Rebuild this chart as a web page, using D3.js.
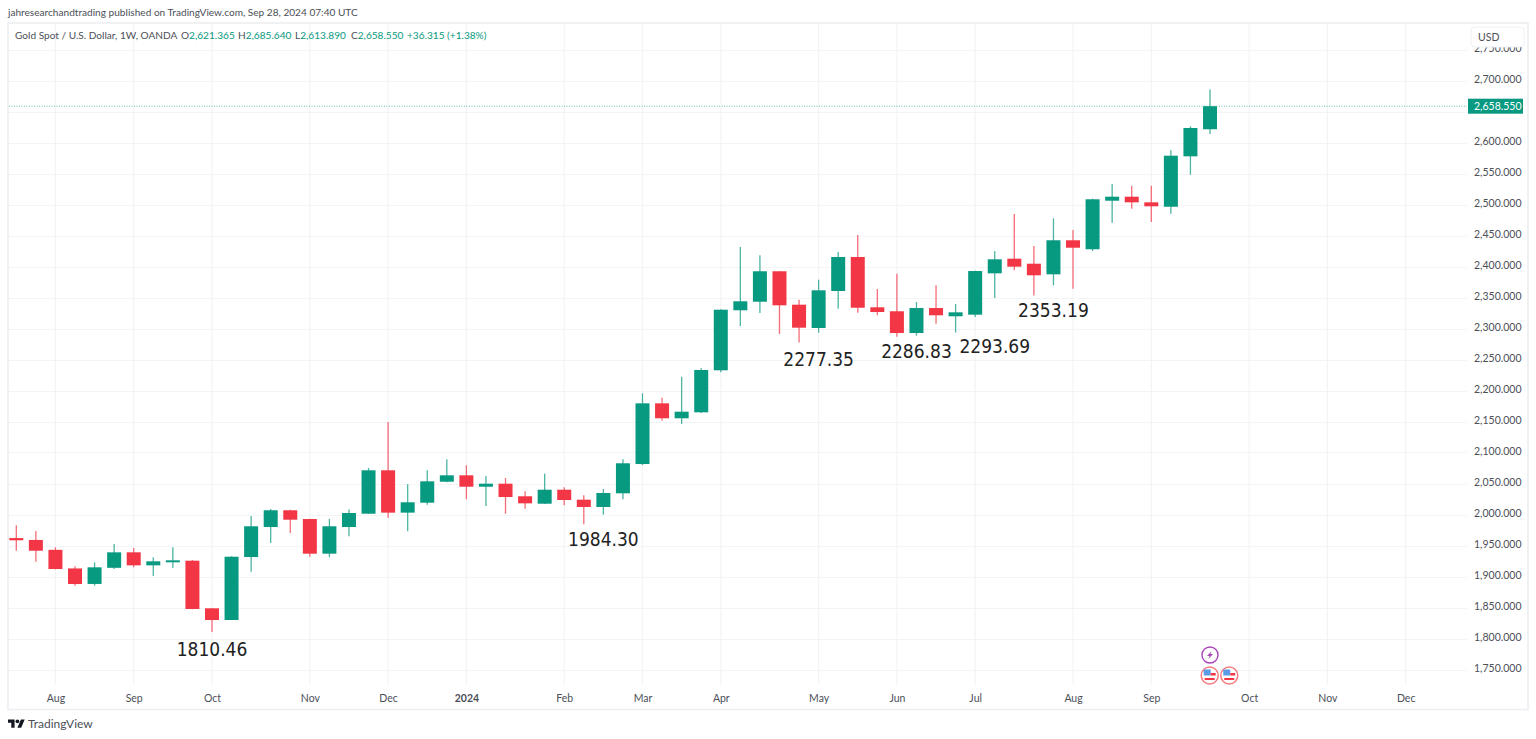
<!DOCTYPE html>
<html><head><meta charset="utf-8">
<script src="https://cdn.jsdelivr.net/npm/d3@7"></script>
<style>
html,body{margin:0;padding:0;background:#fff;overflow:hidden}
svg{display:block}
text{font-family:"Lato",sans-serif;}
</style></head><body>
<svg id="c" width="1536" height="739"></svg>
<script>
const opens=[1962,1959,1943,1913,1888,1914,1939,1918,1923,1925.5,1848.7,1829.8,1931.4,1979.8,2006.8,1992.7,1936.8,1979.8,2001.3,2071.3,2003,2019,2052.9,2063.2,2044.8,2049.7,2029.4,2017.4,2040,2023.9,2012.1,2034.2,2081.4,2179.3,2155.2,2164.8,2232.6,2329.4,2343.2,2392.3,2338.4,2300.8,2360.5,2415.3,2334.2,2327.8,2292.7,2333,2319.7,2322.3,2389,2412.6,2404.5,2387.4,2442.3,2427.8,2506.1,2512.6,2503.5,2496.4,2577.7,2621.365];
const highs=[1982.5,1973.4,1947.1,1916.4,1922.9,1952.4,1946,1931,1947.1,1926.6,1848.7,1932.6,1997.6,2008.9,2007.8,1993.2,1992.7,2008,2075,2149.2,2048.7,2071.3,2089,2079.4,2062,2058.9,2037.4,2065.8,2043.9,2031,2041.1,2089,2195.5,2188.4,2222.3,2235.8,2331,2431.5,2418,2392.3,2346.5,2378.7,2423.4,2450.8,2363.7,2388.4,2342.7,2369.7,2339.5,2393.2,2425,2484.7,2433.1,2477.7,2458.9,2509.4,2533,2530.3,2530.3,2587.4,2626.1,2685.64];
const lows=[1941.6,1923.9,1911.5,1885.2,1885.2,1912.1,1914.8,1900.8,1913.7,1847.1,1810.46,1829.8,1907.8,1954,1970.2,1931.9,1931,1964.8,2001,1994.8,1972.9,2015.8,2052,2024.5,2013.7,2001.3,2009.3,2017,2014.8,1984.3,1999.7,2024.5,2079.8,2151.3,2146,2163.7,2229.3,2304,2325,2291.1,2277.35,2293.2,2332,2325.5,2321.3,2286.83,2288.4,2307.7,2293.69,2318.5,2349.2,2393.9,2353.19,2369.7,2364.2,2425,2470.6,2493.2,2471.8,2485.2,2548.1,2613.89];
const closes=[1958.4,1941.6,1912.1,1887.9,1914.8,1939,1918,1924.5,1926.1,1847.6,1829.8,1931.9,1981,2006.8,1991.6,1936.8,1981,2002.4,2071.3,2003,2019.7,2053.5,2063.2,2044.8,2049.7,2028.2,2018,2040,2023.4,2012.1,2034.7,2082.6,2179.3,2155.2,2165.8,2233.1,2330.3,2343.9,2392.3,2337.4,2301.3,2361.6,2415.3,2333.5,2326.6,2292.7,2333,2321.3,2326.1,2392.7,2411.6,2399.7,2385.8,2442.3,2430.3,2508.4,2512.6,2503.5,2497.1,2578.7,2623.4,2658.55];
const priceTicks=[1750,1800,1850,1900,1950,2000,2050,2100,2150,2200,2250,2300,2350,2400,2450,2500,2550,2600,2650,2700,2750];
const timeTickIdx=[2,6,10,15,19,23,28,32,36,41,45,49,54,58,63,67,71];
const timeTickLabels=["Aug","Sep","Oct","Nov","Dec","2024","Feb","Mar","Apr","May","Jun","Jul","Aug","Sep","Oct","Nov","Dec"];
const annotIdx=[10,30,41,46,50,53];
const annotVals=["1810.46","1984.30","2277.35","2286.83","2293.69","2353.19"];
const lastClose=2658.55;
const legendName="Gold Spot / U.S. Dollar, 1W, OANDA";
const legendKeys=["O","H","L","C"];
const legendVals=["2,621.365","2,685.640","2,613.890","2,658.550"];
const legendChange="+36.315 (+1.38%)";

const UP="#089981",DOWN="#f23645",GRID="#f3f4f6",TXT="#4c4f58";
const svg=d3.select("#c");
const x=d3.scaleLinear().domain([0,61]).range([16.3,1210]);
const y=d3.scaleLinear().domain([1750,2700]).range([669.5,80.5]);
const L=9,R=1467,T=24,B=685,FS=10.1,AFS=10.5;

svg.append("text").attr("x",8).attr("y",16).attr("font-size",FS).attr("fill",TXT)
  .text("jahresearchandtrading published on TradingView.com, Sep 28, 2024 07:40 UTC");
svg.append("rect").attr("x",8).attr("y",23).attr("width",1520).attr("height",686.5)
  .attr("fill","#fff").attr("stroke","#eceef1").attr("stroke-width",1.6);

// grid
svg.append("g").selectAll("line").data(priceTicks).join("line")
  .attr("x1",L).attr("x2",R).attr("y1",d=>Math.round(y(d))+.5).attr("y2",d=>Math.round(y(d))+.5)
  .attr("stroke",GRID).attr("stroke-width",1.2);
svg.append("g").selectAll("line").data(timeTickIdx).join("line")
  .attr("x1",d=>x(d)).attr("x2",d=>x(d)).attr("y1",T).attr("y2",B)
  .attr("stroke",GRID).attr("stroke-width",1.2);

// last price line
svg.append("line").attr("x1",L).attr("x2",R).attr("y1",y(lastClose)).attr("y2",y(lastClose))
  .attr("stroke",UP).attr("stroke-width",1).attr("stroke-dasharray","1 1.5").attr("opacity",.6);

// candles
const idx=d3.range(opens.length);
const col=i=>closes[i]>=opens[i]?UP:DOWN;
svg.append("g").selectAll("line").data(idx).join("line")
  .attr("x1",i=>x(i)).attr("x2",i=>x(i)).attr("y1",i=>y(highs[i])).attr("y2",i=>y(lows[i]))
  .attr("stroke",col).attr("stroke-width",1.3).attr("opacity",.72);
svg.append("g").selectAll("rect").data(idx).join("rect")
  .attr("x",i=>x(i)-7).attr("width",14)
  .attr("y",i=>y(Math.max(opens[i],closes[i])))
  .attr("height",i=>Math.max(2,Math.abs(y(opens[i])-y(closes[i]))))
  .attr("fill",col);

// annotations
svg.append("g").selectAll("text").data(annotVals).join("text")
  .attr("x",(d,k)=>x(annotIdx[k])).attr("y",d=>y(+d))
  .attr("dy",(d,k)=>[24,22,23,21,21,21][k])
  .attr("text-anchor","middle")
  .attr("style","font-family:'DejaVu Sans Condensed','DejaVu Sans';font-stretch:condensed;font-size:19px")
  .attr("fill","#222")
  .text(d=>d);

// price axis
const ay=d3.axisRight(y).tickValues(priceTicks).tickFormat(d3.format(",.3f")).tickSize(0).tickPadding(0);
const gy=svg.append("g").attr("transform","translate(1474,-1)").call(ay);
gy.select(".domain").remove();
gy.selectAll("text").attr("font-size",AFS).attr("fill",TXT).style("font-family",'"Lato",sans-serif');
gy.selectAll(".tick").filter(d=>d===2650).remove();

// USD box
svg.append("rect").attr("x",1471).attr("y",27).attr("width",53).attr("height",20).attr("rx",4)
  .attr("fill","#fff").attr("stroke","#eef0f3");
svg.append("text").attr("x",1478).attr("y",41).attr("font-size",AFS).attr("fill",TXT).text("USD");

// price tag
svg.append("rect").attr("x",1468).attr("y",y(lastClose)-7.5).attr("width",55).attr("height",15).attr("fill",UP);
svg.append("text").attr("x",1474).attr("y",y(lastClose)+3.5).attr("font-size",AFS).attr("fill","#fff")
  .text(d3.format(",.3f")(lastClose));

// time axis
const ax=d3.axisBottom(x).tickValues(timeTickIdx).tickFormat((d,k)=>timeTickLabels[k]).tickSize(0).tickPadding(0);
const gx=svg.append("g").attr("transform","translate(0,694.5)").call(ax);
gx.select(".domain").remove();
gx.selectAll("text").attr("font-size",AFS).attr("fill",TXT).style("font-family",'"Lato",sans-serif')
  .attr("font-weight",(d,k)=>timeTickLabels[k]==="2024"?700:400);

// legend
svg.append("text").attr("x",15).attr("y",39).attr("font-size",FS).attr("fill",TXT).text(legendName);
const lx=[181,238,295,351];
legendKeys.forEach((k,i)=>{
  const t=svg.append("text").attr("x",lx[i]).attr("y",39).attr("font-size",FS).attr("fill",TXT);
  t.append("tspan").text(k);
  t.append("tspan").attr("fill",UP).text(legendVals[i]);
});
svg.append("text").attr("x",407).attr("y",39).attr("font-size",FS).attr("fill",UP).text(legendChange);

// event icons
const ev=svg.append("g");
const bolt=ev.append("g").attr("transform",`translate(${x(61)},655)`);
bolt.append("circle").attr("r",8).attr("fill","#fff").attr("stroke","#ab47bc").attr("stroke-width",1.4);
bolt.append("path").attr("d","M1.5,-4 L-3,1 L-0.4,1 L-1.5,4 L3,-1 L0.4,-1 Z").attr("fill","#ab47bc");
[61,62].forEach(i=>{
  const g=ev.append("g").attr("transform",`translate(${x(i)-.3},675.5)`);
  g.append("circle").attr("r",8.5).attr("fill","#fff").attr("stroke","#f77c80").attr("stroke-width",1.5);
  g.append("circle").attr("r",6).attr("fill","#fff");
  g.append("rect").attr("x",-6).attr("y",-6).attr("width",7).attr("height",6).attr("fill","#5b9be6");
  g.append("rect").attr("x",1).attr("y",-2.5).attr("width",5).attr("height",2.5).attr("fill","#f23645");
  g.append("rect").attr("x",-5).attr("y",2.5).attr("width",10).attr("height",2).attr("fill","#f23645");
});

// logo
const logo=svg.append("g").attr("transform","translate(8,717.5) scale(.47)").attr("fill","#131722");
logo.append("path").attr("d","M14 22H7V11H0V4h14v18zM28 22h-8l7.5-18h8L28 22z");
logo.append("circle").attr("cx",20).attr("cy",8).attr("r",4);
svg.append("text").attr("x",28).attr("y",728).attr("font-size",12).attr("fill","#4c4f58").text("TradingView");
</script></body></html>
